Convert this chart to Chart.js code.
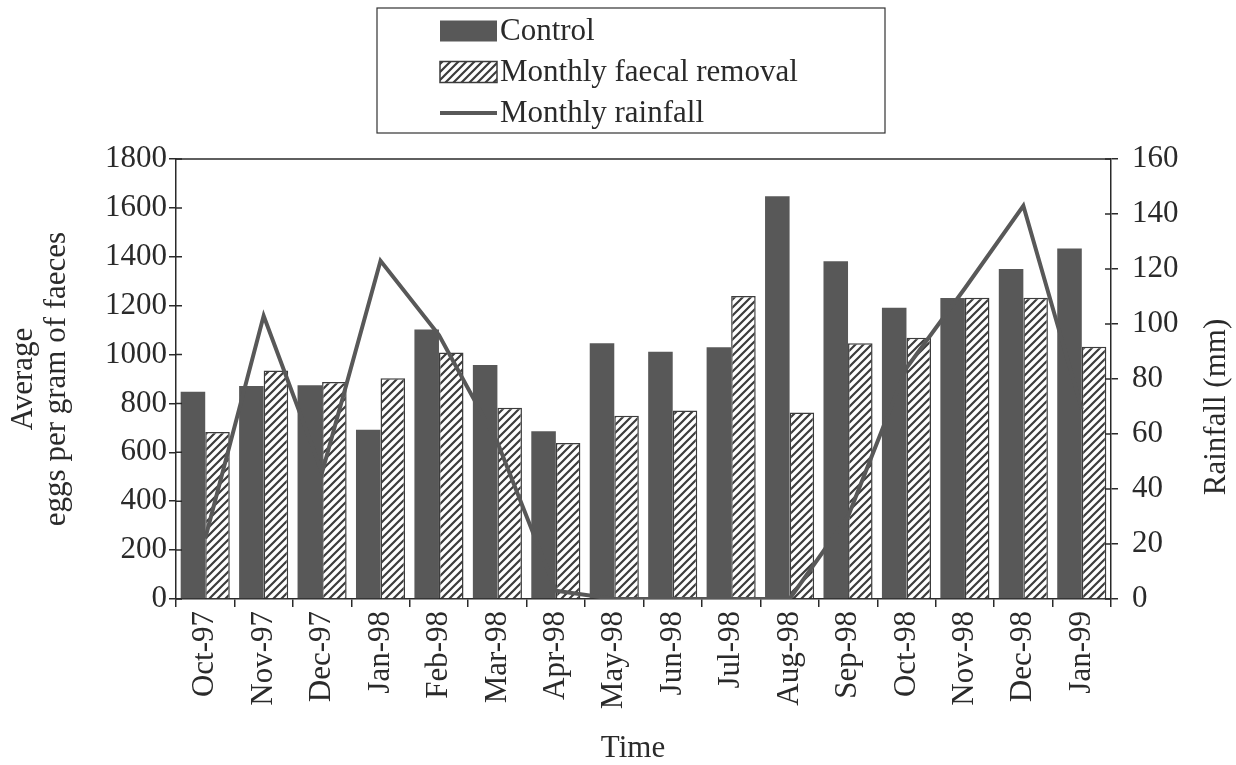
<!DOCTYPE html>
<html>
<head>
<meta charset="utf-8">
<script src="https://cdn.jsdelivr.net/npm/chart.js@4/dist/chart.umd.min.js"></script>
<style>
  html, body { margin: 0; padding: 0; background: #ffffff; }
  #wrap { width: 1236px; height: 765px; position: relative; }
</style>
</head>
<body>
<div id="wrap"><canvas id="c" width="1236" height="765"></canvas></div>
<script>
const months = ["Oct-97","Nov-97","Dec-97","Jan-98","Feb-98","Mar-98","Apr-98","May-98","Jun-98","Jul-98","Aug-98","Sep-98","Oct-98","Nov-98","Dec-98","Jan-99"];
const controlEggs = [848, 871, 874, 692, 1103, 957, 686, 1046, 1011, 1030, 1648, 1382, 1191, 1231, 1350, 1434];
const removalEggs = [683, 935, 888, 903, 1008, 782, 638, 750, 771, 1240, 763, 1046, 1069, 1232, 1232, 1032];
const rainfallMm  = [22, 103, 46, 123, 96, 57, 3, 0, 0, 0, 0, 30, 84, 113, 143, 69];
const seriesNames = ["Control", "Monthly faecal removal", "Monthly rainfall"];
const leftTitle = ["Average", "eggs per gram of faeces"];
const rightTitle = "Rainfall (mm)";
const xTitle = "Time";

const GREY = "#585858";
const AXIS = "#2a2a2a";
const TEXT = "#2a2a2a";
const FONT = "'Liberation Serif', 'Times New Roman', serif";
const FS = 31;

function makeHatch() {
  const s = 8;
  const c = document.createElement('canvas');
  c.width = s; c.height = s;
  const g = c.getContext('2d');
  g.fillStyle = '#ffffff';
  g.fillRect(0, 0, s, s);
  g.strokeStyle = '#3c3c3c';
  g.lineWidth = 2.2;
  g.beginPath();
  g.moveTo(-2, s + 2); g.lineTo(s + 2, -2);
  g.moveTo(-2, 2); g.lineTo(2, -2);
  g.moveTo(s - 2, s + 2); g.lineTo(s + 2, s - 2);
  g.stroke();
  return g.createPattern(c, 'repeat');
}
const hatch = makeHatch();

const framePlugin = {
  id: 'frame',
  afterDraw(chart) {
    const ctx = chart.ctx;
    const a = chart.chartArea;
    ctx.save();
    ctx.strokeStyle = AXIS;
    ctx.lineWidth = 1.5;
    ctx.beginPath();
    ctx.moveTo(a.left, a.top); ctx.lineTo(a.right, a.top);
    ctx.stroke();
    const y = chart.scales.y, y1 = chart.scales.y1;
    ctx.beginPath();
    y.ticks.forEach((t, i) => {
      const p = y.getPixelForTick(i);
      ctx.moveTo(a.left, p); ctx.lineTo(a.left + 6, p);
    });
    y1.ticks.forEach((t, i) => {
      const p = y1.getPixelForTick(i);
      ctx.moveTo(a.right, p); ctx.lineTo(a.right - 6, p);
    });
    ctx.stroke();

    // right axis title, reading bottom to top
    ctx.save();
    ctx.translate(1217, 407);
    ctx.rotate(-Math.PI / 2);
    ctx.font = FS + "px " + FONT;
    ctx.fillStyle = TEXT;
    ctx.textAlign = 'center';
    ctx.textBaseline = 'middle';
    ctx.fillText(rightTitle, 0, 0);
    ctx.restore();

    // x axis title
    ctx.save();
    ctx.font = FS + "px " + FONT;
    ctx.fillStyle = TEXT;
    ctx.textAlign = 'center';
    ctx.textBaseline = 'middle';
    ctx.fillText(xTitle, 633, 749);
    ctx.restore();

    // legend box
    const bx = 377, by = 8, bw = 508, bh = 125;
    ctx.lineWidth = 1.2;
    ctx.strokeStyle = '#333';
    ctx.strokeRect(bx, by, bw, bh);
    const sx = 440, sw = 57, sh = 21;
    const rows = [31, 72, 113];
    ctx.font = FS + "px " + FONT;
    ctx.textBaseline = 'middle';
    ctx.fillStyle = GREY;
    ctx.fillRect(sx, rows[0] - sh / 2, sw, sh);
    ctx.fillStyle = hatch;
    ctx.fillRect(sx, rows[1] - sh / 2, sw, sh);
    ctx.strokeStyle = '#3c3c3c';
    ctx.lineWidth = 1.5;
    ctx.strokeRect(sx, rows[1] - sh / 2, sw, sh);
    ctx.strokeStyle = GREY;
    ctx.lineWidth = 4;
    ctx.beginPath();
    ctx.moveTo(sx, rows[2]); ctx.lineTo(sx + sw, rows[2]);
    ctx.stroke();
    ctx.fillStyle = TEXT;
    seriesNames.forEach((n, i) => ctx.fillText(n, sx + sw + 3, rows[i] + 1));
    ctx.restore();
  }
};

const tickFont = { family: FONT, size: FS };

new Chart(document.getElementById('c'), {
  type: 'bar',
  data: {
    labels: months,
    datasets: [
      {
        type: 'line',
        label: seriesNames[2],
        data: rainfallMm,
        yAxisID: 'y1',
        borderColor: GREY,
        backgroundColor: GREY,
        borderWidth: 4,
        pointRadius: 0,
        tension: 0,
        order: 0
      },
      {
        label: seriesNames[0],
        data: controlEggs,
        yAxisID: 'y',
        backgroundColor: GREY,
        borderWidth: 0,
        categoryPercentage: 0.84,
        barPercentage: 1.0,
        order: 1
      },
      {
        label: seriesNames[1],
        data: removalEggs,
        yAxisID: 'y',
        backgroundColor: hatch,
        borderColor: '#3c3c3c',
        borderWidth: 1.5,
        categoryPercentage: 0.84,
        barPercentage: 1.0,
        order: 1
      }
    ]
  },
  options: {
    responsive: false,
    animation: false,
    devicePixelRatio: 1,
    layout: { padding: { top: 159, left: 0, right: 0, bottom: 0 } },
    plugins: {
      legend: { display: false },
      tooltip: { enabled: false }
    },
    scales: {
      x: {
        offset: true,
        grid: { offset: true, drawOnChartArea: false, tickLength: 8, color: AXIS, lineWidth: 1.5 },
        border: { color: AXIS, width: 1.5 },
        ticks: { font: tickFont, color: TEXT, minRotation: 90, maxRotation: 90, autoSkip: false, padding: 4 },
        title: { display: false },
        afterFit(s) { s.height = 166; }
      },
      y: {
        position: 'left',
        min: 0, max: 1800,
        ticks: { stepSize: 200, font: tickFont, color: TEXT, padding: 2, callback: v => String(v) },
        grid: { drawOnChartArea: false, tickLength: 7, color: AXIS, lineWidth: 1.5 },
        border: { color: AXIS, width: 1.5 },
        title: { display: true, text: leftTitle, font: { family: FONT, size: FS, lineHeight: 1.08 }, color: TEXT, padding: { top: 7, bottom: 0 } },
        afterFit(s) { s.width = 176; }
      },
      y1: {
        position: 'right',
        min: 0, max: 160,
        ticks: { stepSize: 20, font: tickFont, color: TEXT, padding: 14, callback: v => String(v) },
        grid: { drawOnChartArea: false, tickLength: 7, color: AXIS, lineWidth: 1.5 },
        border: { color: AXIS, width: 1.5 },
        title: { display: false },
        afterFit(s) { s.width = 1236 - 1111; }
      }
    }
  },
  plugins: [framePlugin]
});
</script>
</body>
</html>
